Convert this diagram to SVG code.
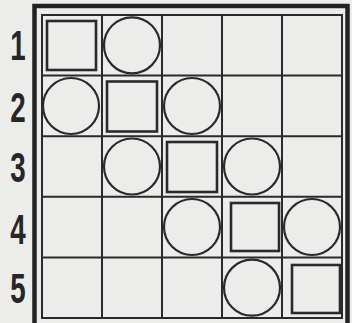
<svg xmlns="http://www.w3.org/2000/svg" width="352" height="323" viewBox="0 0 352 323">
<style>
.bg{fill:#ececea}
.frame{fill:none;stroke:#222;stroke-width:4.5}
.grid{fill:none;stroke:#2a2a2a;stroke-width:2}
.c{fill:none;stroke:#2a2a2a;stroke-width:2.2}
.s{fill:none;stroke:#2a2a2a;stroke-width:2.6}
.num{font-family:"Liberation Sans",Arial,sans-serif;font-size:42px;font-weight:bold;fill:#262626;text-anchor:middle}
</style>
<rect class="bg" x="0" y="0" width="352" height="323"/>
<g id="labels">
<text class="num" transform="translate(18,60) scale(0.66,1)">1</text>
<text class="num" transform="translate(18,122) scale(0.66,1)">2</text>
<text class="num" transform="translate(18,182) scale(0.66,1)">3</text>
<text class="num" transform="translate(18,244) scale(0.66,1)">4</text>
<text class="num" transform="translate(18,303) scale(0.66,1)">5</text>
</g>
<g id="board">
<rect class="frame" x="34.5" y="6" width="313" height="322"/>
<rect class="grid" x="42" y="15" width="300" height="303"/>
<path class="grid" d="M102 15V318M162 15V318M222 15V318M282 15V318M42 75.6H342M42 136.2H342M42 196.8H342M42 257.4H342"/>
</g>
<g id="pieces">
<rect class="s" x="47" y="21" width="49" height="49"/>
<circle class="c" cx="132" cy="45.3" r="28"/>
<circle class="c" cx="71" cy="106" r="28"/>
<rect class="s" x="107" y="81.5" width="50" height="50"/>
<circle class="c" cx="192" cy="106" r="28"/>
<circle class="c" cx="132" cy="166.5" r="28"/>
<rect class="s" x="167" y="142" width="50" height="50"/>
<circle class="c" cx="252" cy="166.5" r="28"/>
<circle class="c" cx="192" cy="227" r="28"/>
<rect class="s" x="231" y="203" width="48" height="48"/>
<circle class="c" cx="312" cy="227" r="28"/>
<circle class="c" cx="252" cy="287.7" r="28"/>
<rect class="s" x="292" y="265" width="48" height="48"/>
</g>
</svg>
